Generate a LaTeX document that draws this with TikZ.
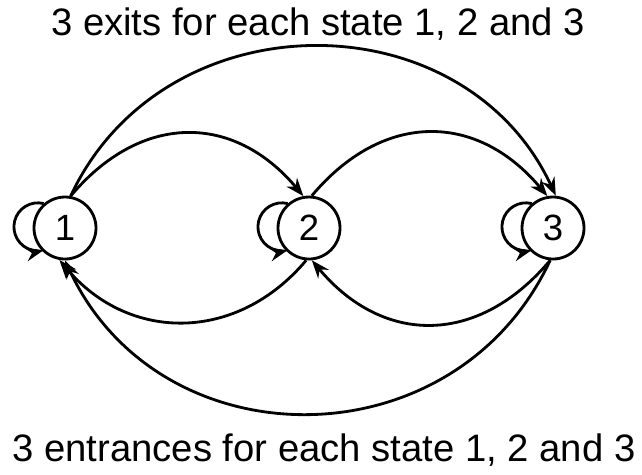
\documentclass[tikz,border=0pt]{standalone}
\usepackage{fontspec}
\setmainfont{Liberation Sans}
\usepackage{tikz}
\usetikzlibrary{arrows.meta, positioning}

\begin{document}
\begin{tikzpicture}[
    node distance=6.1cm,
    state/.style={circle, draw, line width=2pt, minimum size=1.55cm, inner sep=0pt, font=\fontsize{26}{30}\selectfont},
    caption/.style={font=\fontsize{27.2}{32}\selectfont, inner sep=0pt},
    arrow/.style={-{Stealth[length=4.5mm, width=3.4mm]}, line width=2pt},
    selfloop/.style={arrow}
]
\useasboundingbox (0,0) rectangle (16.05,-11.85);

% States in a row
\node[state] (s1) at (1.625,-5.7) {1};
\node[state, right of=s1] (s2) {2};
\node[state, right of=s2] (s3) {3};

% Captions
\node[caption] (exits) at (7.95,-0.6) {3 exits for each state 1, 2 and 3};
\node[caption] (entrances) at (8.1,-11.25) {3 entrances for each state 1, 2 and 3};

% Self loops
\draw[selfloop] (s1.131) arc[start angle=76, end angle=284, radius=0.6cm];
\draw[selfloop] (s2.131) arc[start angle=76, end angle=284, radius=0.6cm];
\draw[selfloop] (s3.131) arc[start angle=76, end angle=284, radius=0.6cm];

% Exits (top)
\draw[arrow] (s1.80) to[out=50, in=130, looseness=1.2] (s2.100);
\draw[arrow] (s2.85) to[out=50, in=130, looseness=1.2] (s3.100);
\draw[arrow] (s1.80) to[out=65, in=115, looseness=1.16] (s3.85);

% Entrances (bottom)
\draw[arrow] (s2.265) to[out=230, in=310, looseness=1.12] (s1.260);
\draw[arrow] (s3.265) to[out=230, in=310, looseness=1.2] (s2.275);
\draw[arrow] (s3.265) to[out=245, in=295, looseness=1.19] (s1.270);

\end{tikzpicture}
\end{document}
